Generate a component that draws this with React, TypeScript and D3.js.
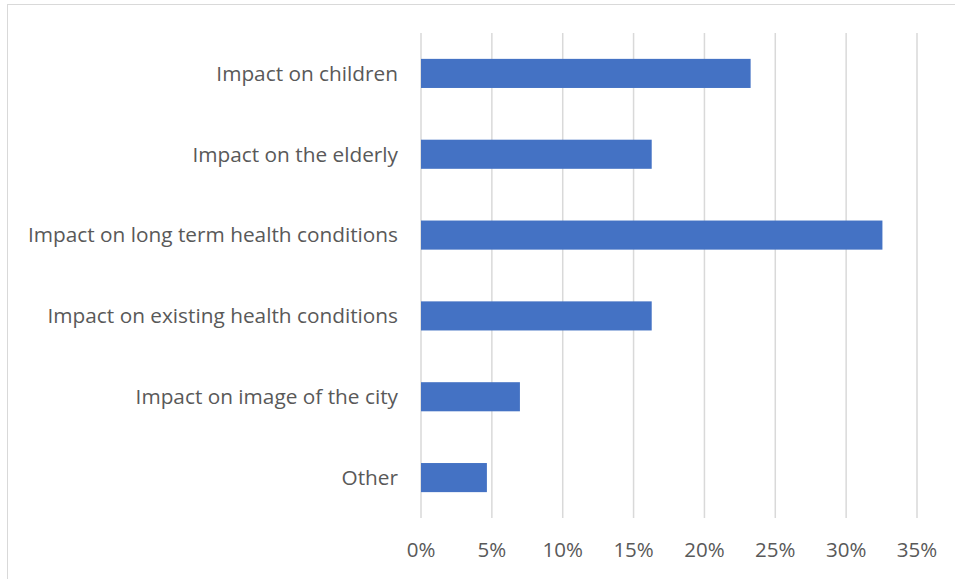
import React, { useEffect, useRef } from 'react'
import * as d3 from 'd3'

const categories = [
  'Impact on children',
  'Impact on the elderly',
  'Impact on long term health conditions',
  'Impact on existing health conditions',
  'Impact on image of the city',
  'Other'
]
const shares = [0.2326, 0.1628, 0.3256, 0.1628, 0.0698, 0.0465]
const ticks = [0, 0.05, 0.1, 0.15, 0.2, 0.25, 0.3, 0.35]

export default function App() {
  const svgRef = useRef<SVGSVGElement | null>(null)

  useEffect(() => {
    if (!svgRef.current) return
    const width = 955
    const height = 579
    const svg = d3.select(svgRef.current)
    svg.selectAll('*').remove()
    svg.attr('width', width).attr('height', height)

    const font = '"Open Sans", sans-serif'

    // chart frame
    svg.append('rect')
      .attr('x', 7.5).attr('y', 4.5)
      .attr('width', 1000).attr('height', 1000)
      .attr('fill', '#fff')
      .attr('stroke', '#d9d9d9')

    const x = d3.scaleLinear().domain([0, 0.35]).range([421, 917])
    const y = d3.scaleBand().domain(categories).range([33, 518]).paddingInner(0.64).paddingOuter(0.32)

    // gridlines
    svg.append('g')
      .selectAll('line')
      .data(ticks)
      .enter()
      .append('line')
      .attr('x1', d => x(d)).attr('x2', d => x(d))
      .attr('y1', 33).attr('y2', 518)
      .attr('stroke', '#d9d9d9')
      .attr('stroke-width', 1.5)

    // bars
    svg.append('g')
      .selectAll('rect')
      .data(categories)
      .enter()
      .append('rect')
      .attr('x', x(0))
      .attr('y', d => y(d)!)
      .attr('width', (d, i) => x(shares[i]) - x(0))
      .attr('height', y.bandwidth())
      .attr('fill', '#4472c4')

    // category labels
    svg.append('g')
      .selectAll('text')
      .data(categories)
      .enter()
      .append('text')
      .attr('x', 398)
      .attr('y', d => y(d)! + y.bandwidth() / 2)
      .attr('dy', '0.35em')
      .attr('text-anchor', 'end')
      .style('font-family', font)
      .style('font-size', '20.8px')
      .attr('fill', '#595959')
      .text(d => d)

    // x tick labels
    svg.append('g')
      .selectAll('text')
      .data(ticks)
      .enter()
      .append('text')
      .attr('x', d => x(d))
      .attr('y', 550)
      .attr('dy', '0.35em')
      .attr('text-anchor', 'middle')
      .style('font-family', font)
      .style('font-size', '20.5px')
      .attr('fill', '#595959')
      .text(d => d3.format('.0%')(d))
  }, [])

  return (
    <svg ref={svgRef} style={{ position: 'absolute', left: 0, top: 0, display: 'block' }}></svg>
  )
}
